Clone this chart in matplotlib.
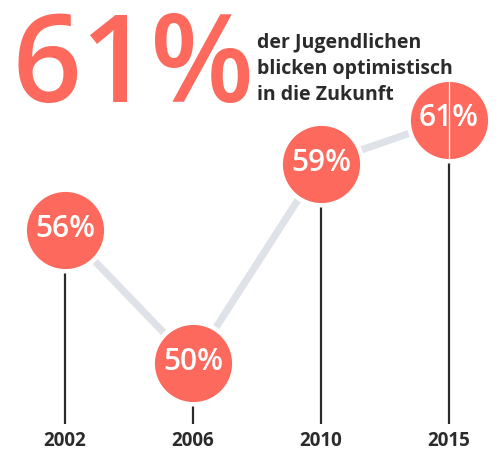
import matplotlib
matplotlib.use("Agg")
import matplotlib.pyplot as plt

years = ["2002", "2006", "2010", "2015"]
values = [56, 50, 59, 61]
labels = ["56%", "50%", "59%", "61%"]
headline = "61%"
subtitle = ["der Jugendlichen", "blicken optimistisch", "in die Zukunft"]

CORAL = "#fd695c"
DARK = "#2b2b2b"
GRAY = "#dfe2e8"

fig = plt.figure(figsize=(4.99, 4.57), dpi=100)
ax = fig.add_axes([0, 0, 1, 1])
ax.set_xlim(-0.508, 3.39)
ax.set_ylim(45.76, 66.4)
ax.axis("off")

x = list(range(len(years)))
base = 47.25

# connecting line
ax.plot(x, values, color=GRAY, lw=5.2, solid_capstyle="butt", zorder=1)
# vertical stems
ax.vlines(x, base, values, color=DARK, lw=1.6, zorder=2)
# circles
ax.scatter(x, values, s=3450, color=CORAL, edgecolors="white", linewidths=3.2, zorder=3)
# thin white artifact through last circle
ax.vlines([x[-1]], values[-1] - 1.9, values[-1] + 1.9, color="white", lw=0.9, zorder=4)

for xi, v, lab in zip(x, values, labels):
    ax.text(xi, v + 0.05, lab, color="white", fontsize=21.5, fontfamily="Open Sans",
            fontweight="semibold", ha="center", va="center", zorder=5)

for xi, yr in zip(x, years):
    ax.text(xi, 45.76 + (457 - 441) / 22.14, yr, color=DARK, fontsize=13.5,
            fontfamily="Open Sans", fontweight="bold", ha="center", va="center")

fig.text(12 / 499, 1 - 102 / 457, headline, color=CORAL, fontsize=87,
         fontfamily="Open Sans", fontweight="semibold", ha="left", va="baseline")

for i, line in enumerate(subtitle):
    fig.text(257 / 499, 1 - (48 + 26 * i) / 457, line, color=DARK, fontsize=14,
             fontfamily="Open Sans", fontweight="bold", ha="left", va="baseline")

fig.savefig("out.png", dpi=100, facecolor="white")
